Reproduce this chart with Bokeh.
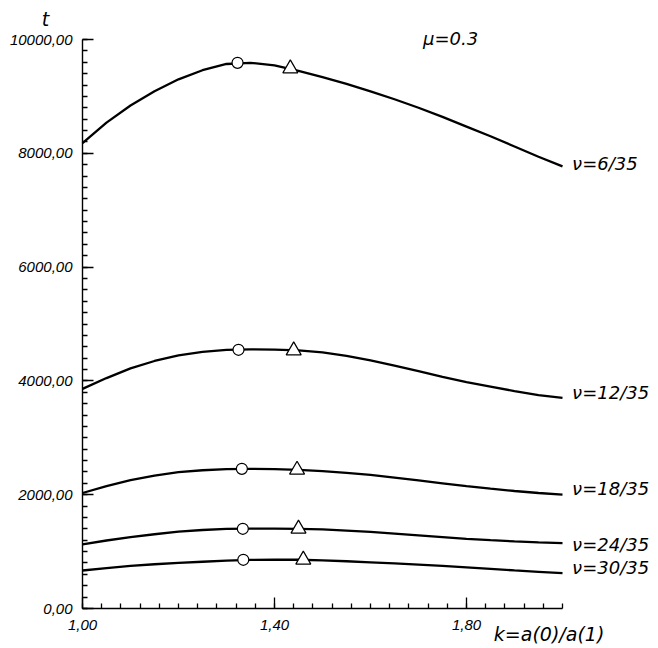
from bokeh.plotting import figure
from bokeh.models import Range1d, FixedTicker, Label, LinearAxis
from bokeh.embed import file_html
from bokeh.resources import INLINE

# ---- data ----
k_values = [1.00, 1.05, 1.10, 1.15, 1.20, 1.25, 1.30, 1.35, 1.40, 1.45, 1.50,
            1.55, 1.60, 1.65, 1.70, 1.75, 1.80, 1.85, 1.90, 1.95, 2.00]

t_nu_6 = [8180, 8540, 8840, 9090, 9300, 9460, 9570, 9590, 9545, 9450, 9340,
          9220, 9090, 8950, 8800, 8640, 8470, 8300, 8120, 7940, 7770]
t_nu_12 = [3860, 4050, 4220, 4350, 4450, 4510, 4545, 4555, 4550, 4535, 4500,
           4440, 4360, 4270, 4170, 4070, 3980, 3900, 3820, 3750, 3700]
t_nu_18 = [2030, 2150, 2255, 2335, 2395, 2430, 2450, 2455, 2450, 2437, 2415,
           2385, 2350, 2300, 2250, 2200, 2150, 2105, 2065, 2030, 2000]
t_nu_24 = [1125, 1195, 1255, 1305, 1350, 1380, 1398, 1405, 1405, 1400, 1390,
           1370, 1345, 1315, 1285, 1255, 1225, 1200, 1180, 1162, 1148]
t_nu_30 = [668, 710, 748, 778, 802, 822, 842, 855, 858, 857, 845,
           830, 812, 792, 770, 748, 722, 696, 670, 645, 620]

series_names = ["ν=6/35", "ν=12/35", "ν=18/35", "ν=24/35", "ν=30/35"]
series_values = [t_nu_6, t_nu_12, t_nu_18, t_nu_24, t_nu_30]

circle_k = [1.323, 1.325, 1.332, 1.334, 1.335]
circle_t = [9590, 4547, 2455, 1401, 856]
triangle_k = [1.433, 1.440, 1.447, 1.450, 1.460]
triangle_t = [9490, 4534, 2437, 1401, 856]

x_major_ticks = [1.0, 1.4, 1.8]
x_tick_labels = ["1,00", "1,40", "1,80"]
y_major_ticks = [0, 2000, 4000, 6000, 8000, 10000]
y_tick_labels = ["0,00", "2000,00", "4000,00", "6000,00", "8000,00", "10000,00"]

# ---- figure: frame fills the canvas, axes drawn at fixed locations ----
p = figure(width=652, height=644, output_backend="svg", toolbar_location=None,
           x_range=Range1d(0.82917, 2.1875), y_range=Range1d(-632.7, 10685.6),
           min_border=0)
p.xgrid.visible = False
p.ygrid.visible = False
p.outline_line_color = None
p.background_fill_color = "white"
p.border_fill_color = "white"

x_minor = [round(1.0 + 0.04 * i, 2) for i in range(26)]
y_minor = [200 * i for i in range(51)]
xticker = FixedTicker(ticks=x_major_ticks, minor_ticks=x_minor)
yticker = FixedTicker(ticks=y_major_ticks, minor_ticks=y_minor)
p.xaxis.ticker = xticker
p.yaxis.ticker = yticker
p.xaxis.major_label_overrides = dict(zip(x_major_ticks, x_tick_labels))
p.yaxis.major_label_overrides = dict(zip(y_major_ticks, y_tick_labels))
p.xaxis.fixed_location = 0
p.yaxis.fixed_location = 1.0
p.xaxis.bounds = (1.0, 2.0)
p.yaxis.bounds = (0, 10000)

for ax in (p.xaxis, p.yaxis):
    ax.axis_line_color = "black"
    ax.axis_line_width = 1.4
    ax.major_tick_in = 0
    ax.major_tick_out = 0
    ax.minor_tick_in = 0
    ax.minor_tick_out = 0
    ax.major_label_text_font = "Liberation Sans"
    ax.major_label_text_font_style = "italic"
    ax.major_label_text_font_size = "15px"
    ax.major_label_text_color = "black"
p.yaxis.major_label_standoff = 10
p.xaxis.major_label_standoff = 11

# inward-pointing ticks: companion axes on the opposite sides, ticks drawn "out"
tick_y = LinearAxis(fixed_location=1.0, bounds=(0, 10000), ticker=yticker,
                    axis_line_color=None, major_label_text_color=None,
                    major_tick_out=11, major_tick_in=0,
                    minor_tick_out=5, minor_tick_in=0,
                    major_tick_line_color="black", minor_tick_line_color="black",
                    major_tick_line_width=1.3, minor_tick_line_width=1.3)
tick_x = LinearAxis(fixed_location=0, bounds=(1.0, 2.0), ticker=xticker,
                    axis_line_color=None, major_label_text_color=None,
                    major_tick_out=11, major_tick_in=0,
                    minor_tick_out=5, minor_tick_in=0,
                    major_tick_line_color="black", minor_tick_line_color="black",
                    major_tick_line_width=1.3, minor_tick_line_width=1.3)
p.add_layout(tick_y, "right")
p.add_layout(tick_x, "above")

# ---- curves ----
for vals in series_values:
    p.line(k_values, vals, line_color="black", line_width=2.3)

p.scatter(circle_k, circle_t, marker="circle", size=11,
          fill_color="white", line_color="black", line_width=1.2)
p.scatter(triangle_k, triangle_t, marker="triangle", size=15,
          fill_color="white", line_color="black", line_width=1.2)

# ---- labels ----
label_t = [7820, 3800, 2110, 1125, 725]
for name, ty in zip(series_names, label_t):
    p.add_layout(Label(x=2.02, y=ty, text=name, text_font="DejaVu Sans",
                       text_font_style="italic", text_font_size="18px",
                       text_baseline="middle", text_align="left",
                       text_color="black"))

p.add_layout(Label(x=1.857, y=-440, text="k=a(0)/a(1)", text_font="DejaVu Sans",
                   text_font_style="italic", text_font_size="19px",
                   text_baseline="middle", text_align="left", text_color="black"))
p.add_layout(Label(x=0.923, y=10369, text="t", text_font="DejaVu Sans",
                   text_font_style="italic", text_font_size="19px",
                   text_baseline="middle", text_align="center", text_color="black"))
p.add_layout(Label(x=1.767, y=10018, text="μ=0.3", text_font="DejaVu Sans",
                   text_font_style="italic", text_font_size="18px",
                   text_baseline="middle", text_align="center", text_color="black"))

open("out.html", "w").write(file_html(p, INLINE))
